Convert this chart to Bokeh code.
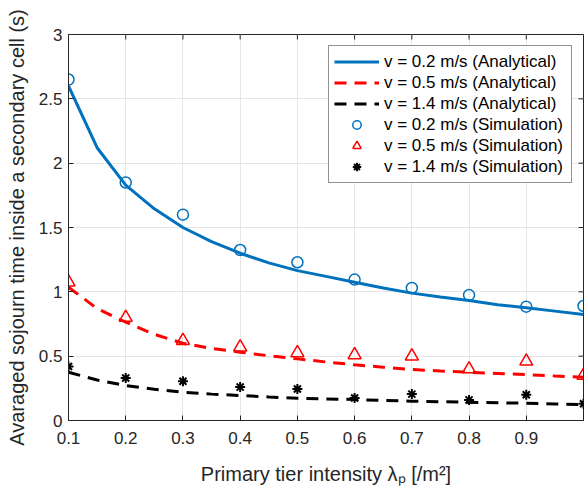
import math
from bokeh.plotting import figure
from bokeh.models import Range1d, FixedTicker, Legend, LegendItem
from bokeh.embed import file_html
from bokeh.resources import INLINE

# ---- data ----
x_analytical = [0.1, 0.15, 0.2, 0.25, 0.3, 0.35, 0.4, 0.45, 0.5, 0.55,
                0.6, 0.65, 0.7, 0.75, 0.8, 0.85, 0.9, 0.95, 1.0]
v02_analytical = [2.60, 2.12, 1.83, 1.645, 1.50, 1.39, 1.30, 1.225, 1.165, 1.12,
                  1.075, 1.03, 0.99, 0.96, 0.932, 0.90, 0.876, 0.85, 0.824]
v05_analytical = [1.036, 0.87, 0.764, 0.67, 0.60, 0.56, 0.531, 0.503, 0.479, 0.455,
                  0.433, 0.414, 0.396, 0.385, 0.375, 0.366, 0.357, 0.346, 0.336]
v14_analytical = [0.375, 0.315, 0.272, 0.243, 0.22, 0.205, 0.194, 0.183, 0.173, 0.168,
                  0.163, 0.156, 0.15, 0.146, 0.142, 0.138, 0.134, 0.129, 0.124]

x_simulation = [0.1, 0.2, 0.3, 0.4, 0.5, 0.6, 0.7, 0.8, 0.9, 1.0]
v02_simulation = [2.65, 1.85, 1.60, 1.325, 1.23, 1.095, 1.03, 0.975, 0.885, 0.89]
v05_simulation = [1.075, 0.80, 0.62, 0.57, 0.525, 0.51, 0.50, 0.40, 0.46, 0.35]
v14_simulation = [0.42, 0.33, 0.305, 0.26, 0.245, 0.175, 0.205, 0.16, 0.20, 0.13]

x_ticks = [0.1, 0.2, 0.3, 0.4, 0.5, 0.6, 0.7, 0.8, 0.9]
x_tick_labels = ["0.1", "0.2", "0.3", "0.4", "0.5", "0.6", "0.7", "0.8", "0.9"]
y_ticks = [0, 0.5, 1, 1.5, 2, 2.5, 3]
y_tick_labels = ["0", "0.5", "1", "1.5", "2", "2.5", "3"]
x_min, x_max = 0.1, 1.0
y_min, y_max = 0, 3

legend_labels = ["v = 0.2 m/s (Analytical)", "v = 0.5 m/s (Analytical)",
                 "v = 1.4 m/s (Analytical)", "v = 0.2 m/s (Simulation)",
                 "v = 0.5 m/s (Simulation)", "v = 1.4 m/s (Simulation)"]

FONT = "Liberation Sans"
TXT = "#262626"
BLUE = "#0072BD"
RED = "#FF0000"
BLACK = "#000000"

p = figure(width=584, height=497, output_backend="svg", toolbar_location=None,
           x_range=Range1d(x_min, x_max), y_range=Range1d(y_min, y_max),
           min_border_left=68, min_border_right=1, min_border_top=34,
           min_border_bottom=77)

p.outline_line_color = TXT
p.outline_line_width = 1
p.background_fill_color = "white"
p.border_fill_color = "white"

for ax in (p.xaxis[0], p.yaxis[0]):
    ax.major_tick_in = 5
    ax.major_tick_out = 0
    ax.minor_tick_line_color = None
    ax.axis_line_color = TXT
    ax.major_tick_line_color = TXT
    ax.major_label_text_font = FONT
    ax.major_label_text_font_size = "17px"
    ax.major_label_text_color = TXT
    ax.axis_label_text_font = FONT
    ax.axis_label_text_font_size = "20px"
    ax.axis_label_text_font_style = "normal"
    ax.axis_label_text_color = TXT

p.xaxis[0].ticker = FixedTicker(ticks=x_ticks)
p.xaxis[0].major_label_overrides = {t: l for t, l in zip(x_ticks, x_tick_labels)}
p.xaxis[0].major_label_standoff = 11
p.xaxis[0].axis_label = "Primary tier intensity λₚ [/m²]"
p.xaxis[0].axis_label_standoff = 16

p.yaxis[0].ticker = FixedTicker(ticks=y_ticks)
p.yaxis[0].major_label_overrides = {t: l for t, l in zip(y_ticks, y_tick_labels)}
p.yaxis[0].major_label_standoff = 6
p.yaxis[0].axis_label = "Avaraged sojourn time inside a secondary cell (s)"
p.yaxis[0].axis_label_standoff = 8

p.xgrid.ticker = FixedTicker(ticks=x_ticks)
p.ygrid.ticker = FixedTicker(ticks=y_ticks)
p.grid.grid_line_color = "#e6e6e6"
p.grid.grid_line_width = 1

# box ticks on the top and right edges (inward, 5 px), as in the reference
p.ray(x=x_ticks, y=[y_max] * len(x_ticks), length=5, length_units="screen",
      angle=-math.pi / 2, line_color=TXT, line_width=1)
p.ray(x=[x_max] * len(y_ticks), y=y_ticks, length=5, length_units="screen",
      angle=math.pi, line_color=TXT, line_width=1)

r1 = p.line(x_analytical, v02_analytical, line_color=BLUE, line_width=3)
r2 = p.line(x_analytical, v05_analytical, line_color=RED, line_width=3, line_dash="12 8")
r3 = p.line(x_analytical, v14_analytical, line_color=BLACK, line_width=3, line_dash="12 8")
r4 = p.scatter(x_simulation, v02_simulation, marker="circle", size=11,
               fill_color=None, line_color=BLUE, line_width=1.5)
r5 = p.scatter(x_simulation, v05_simulation, marker="triangle", size=13,
               fill_color=None, line_color=RED, line_width=1.5)
r6 = p.scatter(x_simulation, v14_simulation, marker="asterisk", size=10,
               line_color=BLACK, line_width=2)

legend = Legend(items=[LegendItem(label=l, renderers=[r]) for l, r in
                       zip(legend_labels, [r1, r2, r3, r4, r5, r6])],
                location="top_right", margin=11, padding=5, spacing=0,
                glyph_width=45, glyph_height=21, label_height=21,
                label_width=182, label_standoff=5,
                label_text_font=FONT, label_text_font_size="17px",
                label_text_color=BLACK,
                border_line_color=TXT, border_line_width=1,
                background_fill_color="white", background_fill_alpha=1)
p.add_layout(legend)

open("out.html", "w").write(file_html(p, INLINE))
